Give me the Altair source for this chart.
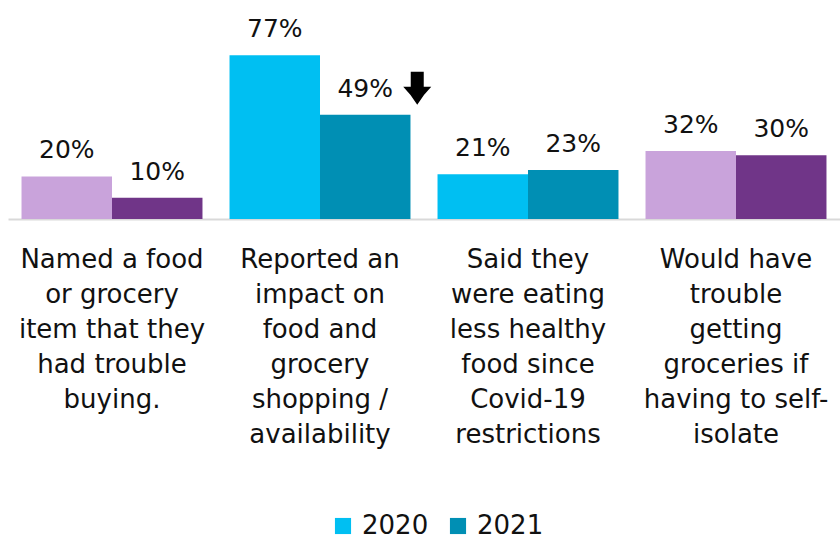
import altair as alt
import pandas as pd

categories = [
    "Named a food\nor grocery\nitem that they\nhad trouble\nbuying.",
    "Reported an\nimpact on\nfood and\ngrocery\nshopping /\navailability",
    "Said they\nwere eating\nless healthy\nfood since\nCovid-19\nrestrictions",
    "Would have\ntrouble\ngetting\ngroceries if\nhaving to self-\nisolate",
]
years = ["2020", "2021"]
values_2020 = [20, 77, 21, 32]
values_2021 = [10, 49, 23, 30]
palette_group = ["purple", "cyan", "cyan", "purple"]
arrow_flags_2021 = [False, True, False, False]

rows = []
for i, cat in enumerate(categories):
    for yr, vals in (("2020", values_2020), ("2021", values_2021)):
        key = yr + ("p" if palette_group[i] == "purple" else "")
        rows.append({
            "category": cat,
            "year": yr,
            "value": vals[i],
            "ckey": key,
            "label": f"{vals[i]}%",
            "arrow": bool(yr == "2021" and arrow_flags_2021[i]),
        })
df = pd.DataFrame(rows)

FONT = "DejaVu Sans"

# bold down arrow drawn to the right of the value label (unit = 10 px at size 400)
ARROW_PATH = (
    "M4.55,-4.3 L5.85,-4.3 L5.85,-2.8 L6.6,-2.8 "
    "Q5.8,-2.0 5.2,-1.0 Q4.6,-2.0 3.8,-2.8 "
    "L4.55,-2.8 Z"
)

x_enc = alt.X(
    "category:N",
    sort=categories,
    scale=alt.Scale(paddingInner=0.13, paddingOuter=0.065),
    axis=alt.Axis(
        title=None,
        labelExpr="split(datum.label, '\\n')",
        labelAngle=0,
        labelFontSize=26,
        labelFont=FONT,
        labelColor="#111111",
        labelLineHeight=35,
        labelPadding=27,
        labelLimit=0,
        labelAlign="center",
        labelBaseline="top",
        ticks=False,
        domainColor="#d9d9d9",
        domainWidth=2,
    ),
)
xoff = alt.XOffset("year:N", sort=years, scale=alt.Scale(paddingInner=0, paddingOuter=0))
y_enc = alt.Y("value:Q", scale=alt.Scale(domain=[0, 103]), axis=None)

color_enc = alt.Color(
    "ckey:N",
    scale=alt.Scale(
        domain=["2020", "2021", "2020p", "2021p"],
        range=["#00BFF2", "#008FB4", "#C9A3DB", "#703588"],
    ),
    legend=alt.Legend(
        title=None,
        values=["2020", "2021"],
        orient="none",
        direction="horizontal",
        legendX=322,
        legendY=513,
        symbolType="square",
        symbolSize=260,
        symbolStrokeWidth=0,
        labelFontSize=26,
        labelFont=FONT,
        labelColor="#111111",
        columnPadding=16,
        labelOffset=6,
    ),
)

base = alt.Chart(df).encode(x=x_enc, xOffset=xoff, y=y_enc)

bars = base.mark_bar().encode(color=color_enc)

labels = base.mark_text(
    baseline="alphabetic", dy=-18, fontSize=25, font=FONT, color="#111111"
).encode(text="label:N")

arrow = base.transform_filter("datum.arrow").mark_point(
    shape=ARROW_PATH, size=400, filled=True, color="#000000", opacity=1, strokeWidth=0
)

chart = (
    alt.layer(bars, labels, arrow)
    .properties(
        width=832,
        height=219,
        padding={"left": 8, "top": 0, "right": 0, "bottom": 0},
        background="white",
    )
    .configure_view(stroke=None)
)

chart.save("out.html", embed_options={"renderer": "svg", "actions": False})
